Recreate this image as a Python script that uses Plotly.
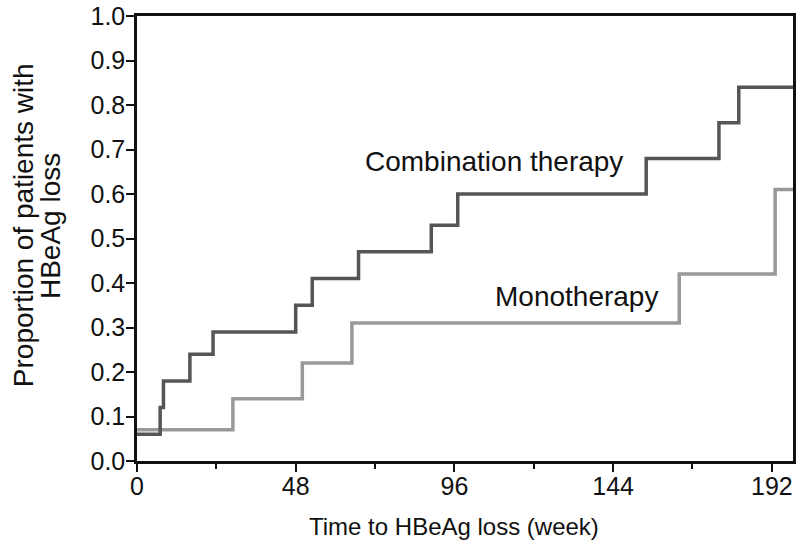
import plotly.graph_objects as go

# Data (Kaplan-Meier style step curves)
combo_weeks = [0, 7, 8, 16, 23, 48, 53, 67, 89, 97, 154, 176, 182, 198.4]
combo_prop = [0.06, 0.12, 0.18, 0.24, 0.29, 0.35, 0.41, 0.47, 0.53, 0.60, 0.68, 0.76, 0.84, 0.84]

mono_weeks = [0, 29, 50, 65, 164, 193, 198.4]
mono_prop = [0.07, 0.14, 0.22, 0.31, 0.42, 0.61, 0.61]

x_ticks = [0, 48, 96, 144, 192]
y_ticks = [0.0, 0.1, 0.2, 0.3, 0.4, 0.5, 0.6, 0.7, 0.8, 0.9, 1.0]

FONT = "Liberation Sans, Arial, Helvetica, sans-serif"
TXT = "#111111"

fig = go.Figure()
fig.add_trace(go.Scatter(x=mono_weeks, y=mono_prop, mode="lines",
                         line=dict(shape="hv", color="#999999", width=3.5),
                         name="Monotherapy", showlegend=False))
fig.add_trace(go.Scatter(x=combo_weeks, y=combo_prop, mode="lines",
                         line=dict(shape="hv", color="#555555", width=3.5),
                         name="Combination therapy", showlegend=False))

fig.add_annotation(x=108, y=0.672, xref="x", yref="y", text="Combination therapy",
                   showarrow=False, font=dict(family=FONT, size=28, color=TXT))
fig.add_annotation(x=133, y=0.369, xref="x", yref="y", text="Monotherapy",
                   showarrow=False, font=dict(family=FONT, size=28, color=TXT))

# Y axis title: two rotated lines
fig.add_annotation(x=-0.1738, y=0.53, xref="paper", yref="paper",
                   text="Proportion of patients with",
                   textangle=-90, showarrow=False, xanchor="center", yanchor="middle",
                   font=dict(family=FONT, size=28, color=TXT))
fig.add_annotation(x=-0.1326, y=0.528, xref="paper", yref="paper",
                   text="HBeAg loss",
                   textangle=-90, showarrow=False, xanchor="center", yanchor="middle",
                   font=dict(family=FONT, size=28, color=TXT))

# X axis title
fig.add_annotation(x=0.483, y=-0.148, xref="paper", yref="paper",
                   text="Time to HBeAg loss (week)", showarrow=False,
                   xanchor="center", yanchor="middle",
                   font=dict(family=FONT, size=24, color=TXT))

fig.update_xaxes(range=[0, 198.4], tickvals=x_ticks, ticktext=[str(v) for v in x_ticks],
                 ticks="outside", ticklen=8, tickwidth=2, tickcolor=TXT,
                 minor=dict(dtick=24, tick0=0, ticks="outside", ticklen=5, tickwidth=2, tickcolor=TXT),
                 showline=True, linecolor=TXT, linewidth=2.5, mirror=True,
                 showgrid=False, zeroline=False, automargin=False,
                 ticklabelstandoff=-7,
                 tickfont=dict(family=FONT, size=25, color=TXT))
fig.update_yaxes(range=[0, 1.0], tickvals=y_ticks, ticktext=[f"{v:.1f}" for v in y_ticks],
                 ticks="outside", ticklen=8, tickwidth=2, tickcolor=TXT,
                 showline=True, linecolor=TXT, linewidth=2.5, mirror=True,
                 showgrid=False, zeroline=False, automargin=False,
                 ticklabelstandoff=-4,
                 tickfont=dict(family=FONT, size=25, color=TXT))

fig.update_layout(width=800, height=549,
                  margin=dict(l=137, r=7, t=16, b=88, autoexpand=False),
                  plot_bgcolor="white", paper_bgcolor="white",
                  font=dict(family=FONT, color=TXT))

fig.write_html("out.html", config={"displayModeBar": False},
               post_script="document.body.style.margin='0';document.body.style.overflow='hidden';")
